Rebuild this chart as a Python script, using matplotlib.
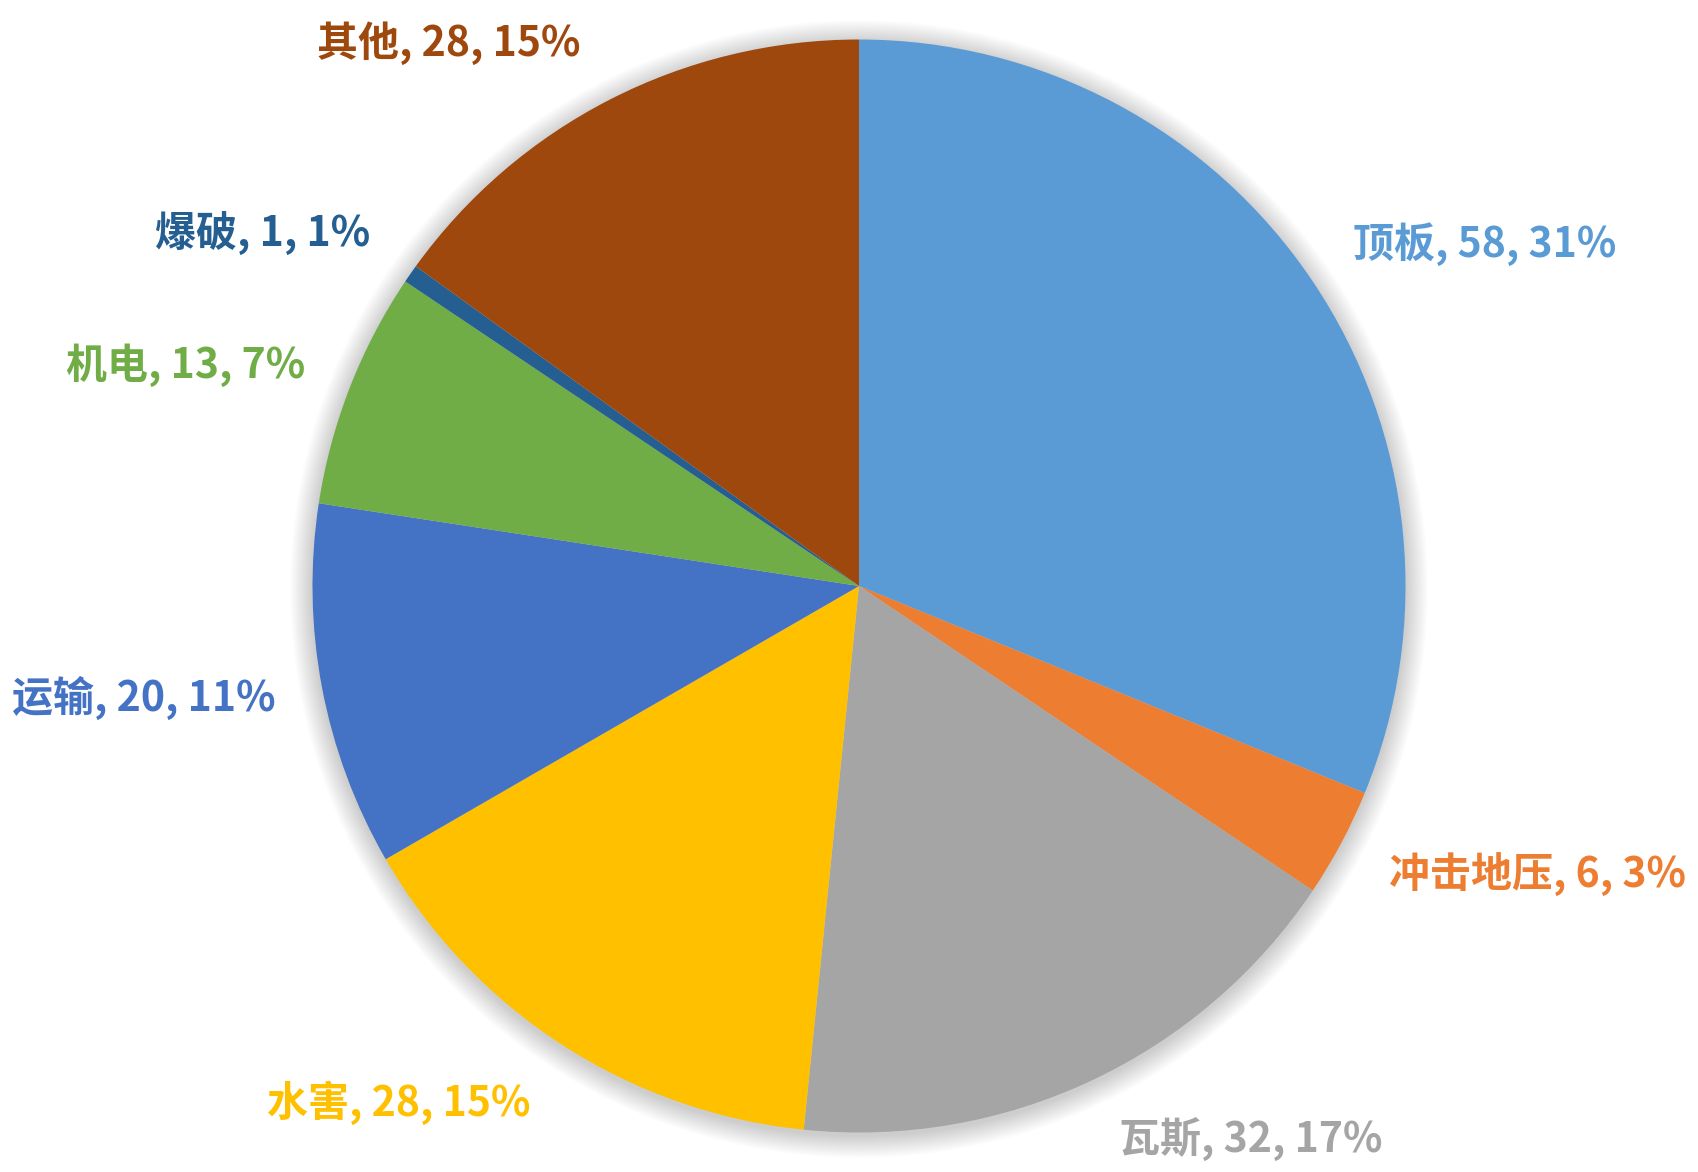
import matplotlib
matplotlib.use("Agg")
import matplotlib.pyplot as plt
from matplotlib.patches import Circle

# data
categories = ["顶板", "冲击地压", "瓦斯", "水害", "运输", "机电", "爆破", "其他"]
counts = [58, 6, 32, 28, 20, 13, 1, 28]
colors = ["#5B9BD5", "#ED7D31", "#A5A5A5", "#FFC000",
          "#4472C4", "#70AD47", "#255E91", "#9E480E"]

# label centres in pixel space (x, y from top), Excel "best fit" placement
LABEL_XY = [(1485, 244), (1537, 875), (1251, 1139), (399, 1103),
            (144, 698), (186, 365), (263, 234), (449, 43)]

W, H = 1699, 1172
CX, CY, R = 859, H - 586, 546.5

plt.rcParams["font.family"] = ["Noto Sans CJK SC", "DejaVu Sans"]

fig = plt.figure(figsize=(W / 100, H / 100), dpi=100)
ax = fig.add_axes([0, 0, 1, 1])

# soft drop shadow around the pie
for k in range(1, 26):
    ax.add_patch(Circle((CX, CY - 3), R + k * 0.9, color="black",
                        alpha=0.007, lw=0, zorder=0))

ax.pie(counts, colors=colors, startangle=90, counterclock=False,
       center=(CX, CY), radius=R,
       wedgeprops=dict(linewidth=0, zorder=2))

total = sum(counts)
for name, n, c, (x, y) in zip(categories, counts, colors, LABEL_XY):
    pct = round(n / total * 100)
    ax.text(x, H - y, f"{name}, {n}, {pct}%", color=c, fontsize=29.5,
            fontweight="bold", ha="center", va="center", zorder=5)

ax.set_xlim(0, W)
ax.set_ylim(0, H)
ax.set_aspect("equal")
ax.axis("off")

fig.savefig("out.png", dpi=100, facecolor="white")
